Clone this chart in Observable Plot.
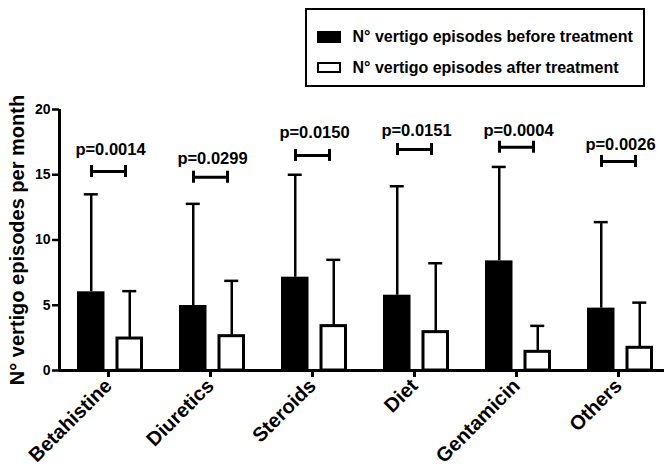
<!DOCTYPE html>
<html>
<head>
<meta charset="utf-8">
<script src="https://cdn.jsdelivr.net/npm/d3@7"></script>
<script src="https://cdn.jsdelivr.net/npm/@observablehq/plot@0.6"></script>
<style>
  html, body { margin: 0; padding: 0; background: white; }
  #wrap { width: 664px; font-family: "Liberation Sans", Arial, sans-serif; font-weight: bold; }
  #legend { position: relative; height: 95px; }
  #legendBox { position: absolute; left: 305px; top: 8px; width: 340px; height: 79px; box-sizing: border-box; border: 2px solid black; }
  .sw { position: absolute; left: 10px; width: 24px; box-sizing: border-box; }
  .lt { position: absolute; left: 45.5px; font-size: 16px; line-height: 20px; white-space: nowrap; color: black; }
</style>
</head>
<body>
<div id="wrap">
  <div id="legend"><div id="legendBox"></div></div>
  <div id="chart"></div>
</div>
<script>
const categories = ["Betahistine", "Diuretics", "Steroids", "Diet", "Gentamicin", "Others"];
const seriesLabels = ["N° vertigo episodes before treatment", "N° vertigo episodes after treatment"];
const beforeMean = [6.03, 4.98, 7.15, 5.77, 8.40, 4.78];
const beforeSD   = [7.47, 7.79, 7.85, 8.35, 7.20, 6.59];
const afterMean  = [2.45, 2.63, 3.40, 2.94, 1.43, 1.74];
const afterSD    = [3.63, 4.24, 5.08, 5.28, 1.99, 3.46];
const pValues = ["p=0.0014", "p=0.0299", "p=0.0150", "p=0.0151", "p=0.0004", "p=0.0026"];
const bracketY = [15.25, 14.81, 16.48, 16.93, 17.11, 16.02];
const pLabelY  = [16.88, 16.25, 18.24, 18.34, 18.41, 17.32];
const yTicks = [0, 5, 10, 15, 20];
const yTitle = "N° vertigo episodes per month";

// legend (HTML, above the svg)
const box = document.getElementById("legendBox");
const swStyles = [
  {top: "20.7px", height: "12.7px", background: "black"},
  {top: "52.3px", height: "11px", background: "white", border: "2.5px solid black"}
];
const textTops = [17, 48];
seriesLabels.forEach((lab, i) => {
  const s = document.createElement("div");
  s.className = "sw";
  Object.assign(s.style, swStyles[i]);
  box.appendChild(s);
  const t = document.createElement("div");
  t.className = "lt";
  t.style.top = textTops[i] + "px";
  t.textContent = lab;
  box.appendChild(t);
});

const rows = categories.map((c, i) => ({
  category: c,
  before: beforeMean[i], beforeTop: beforeMean[i] + beforeSD[i],
  after: afterMean[i], afterTop: afterMean[i] + afterSD[i],
  p: pValues[i], bracket: bracketY[i], label: pLabelY[i]
}));

const xRange = [59, 671];
const step = (xRange[1] - xRange[0]) / categories.length;
const off = 19.25, half = 13.75, capHalf = 7, brHalf = 17, brDx = -2;
const font = "'Liberation Sans', Arial, sans-serif";

const chart = Plot.plot({
  width: 664,
  height: 376,
  marginTop: 14,
  marginBottom: 101,
  marginLeft: 59,
  marginRight: 0,
  style: {fontFamily: font, fontWeight: "bold", color: "black", background: "white"},
  x: {domain: categories, range: xRange, padding: 0, label: null},
  y: {domain: [0, 20], label: null},
  marks: [
    Plot.barY(rows, {x: "category", y: "before", fill: "black", dx: -off,
      insetLeft: step / 2 - half, insetRight: step / 2 - half}),
    Plot.barY(rows, {x: "category", y: "after", fill: "white", stroke: "black", strokeWidth: 3, dx: off,
      insetLeft: step / 2 - half + 1.5, insetRight: step / 2 - half + 1.5}),
    Plot.ruleX(rows, {x: "category", y1: "before", y2: "beforeTop", dx: -off, strokeWidth: 2.5}),
    Plot.ruleX(rows, {x: "category", y1: "after", y2: "afterTop", dx: off, strokeWidth: 2.5}),
    Plot.tickY(rows, {x: "category", y: "beforeTop", dx: -off, strokeWidth: 2.5,
      insetLeft: step / 2 - capHalf, insetRight: step / 2 - capHalf}),
    Plot.tickY(rows, {x: "category", y: "afterTop", dx: off, strokeWidth: 2.5,
      insetLeft: step / 2 - capHalf, insetRight: step / 2 - capHalf}),
    Plot.ruleY(rows, {x1: "category", x2: "category", y: "bracket", dx: brDx, strokeWidth: 3,
      insetLeft: step / 2 - brHalf, insetRight: step / 2 - brHalf}),
    Plot.ruleX(rows, {x: "category", y1: "bracket", y2: "bracket", dx: brDx - brHalf, strokeWidth: 3,
      insetTop: -6, insetBottom: -6}),
    Plot.ruleX(rows, {x: "category", y1: "bracket", y2: "bracket", dx: brDx + brHalf, strokeWidth: 3,
      insetTop: -6, insetBottom: -6}),
    Plot.text(rows, {x: "category", y: "label", text: "p", fontSize: 16.5, fontWeight: "bold"}),
    Plot.ruleY([0], {strokeWidth: 3}),
    Plot.ruleX(categories.slice(0, 1), {x: d => d, y1: 0, y2: 20, dx: -step / 2, strokeWidth: 3}),
    Plot.axisY({ticks: yTicks, tickSize: 7, tickPadding: 2, fontSize: 14, strokeWidth: 2.5, label: null}),
    Plot.axisX({tickSize: 7, tickPadding: 5, tickRotate: -45, fontSize: 20, strokeWidth: 3, label: null, dx: -2}),
    Plot.text([yTitle], {frameAnchor: "left", textAnchor: "middle", rotate: -90, dx: -42.4, fontSize: 20, fontWeight: "bold"})
  ]
});
document.getElementById("chart").appendChild(chart);
</script>
</body>
</html>
